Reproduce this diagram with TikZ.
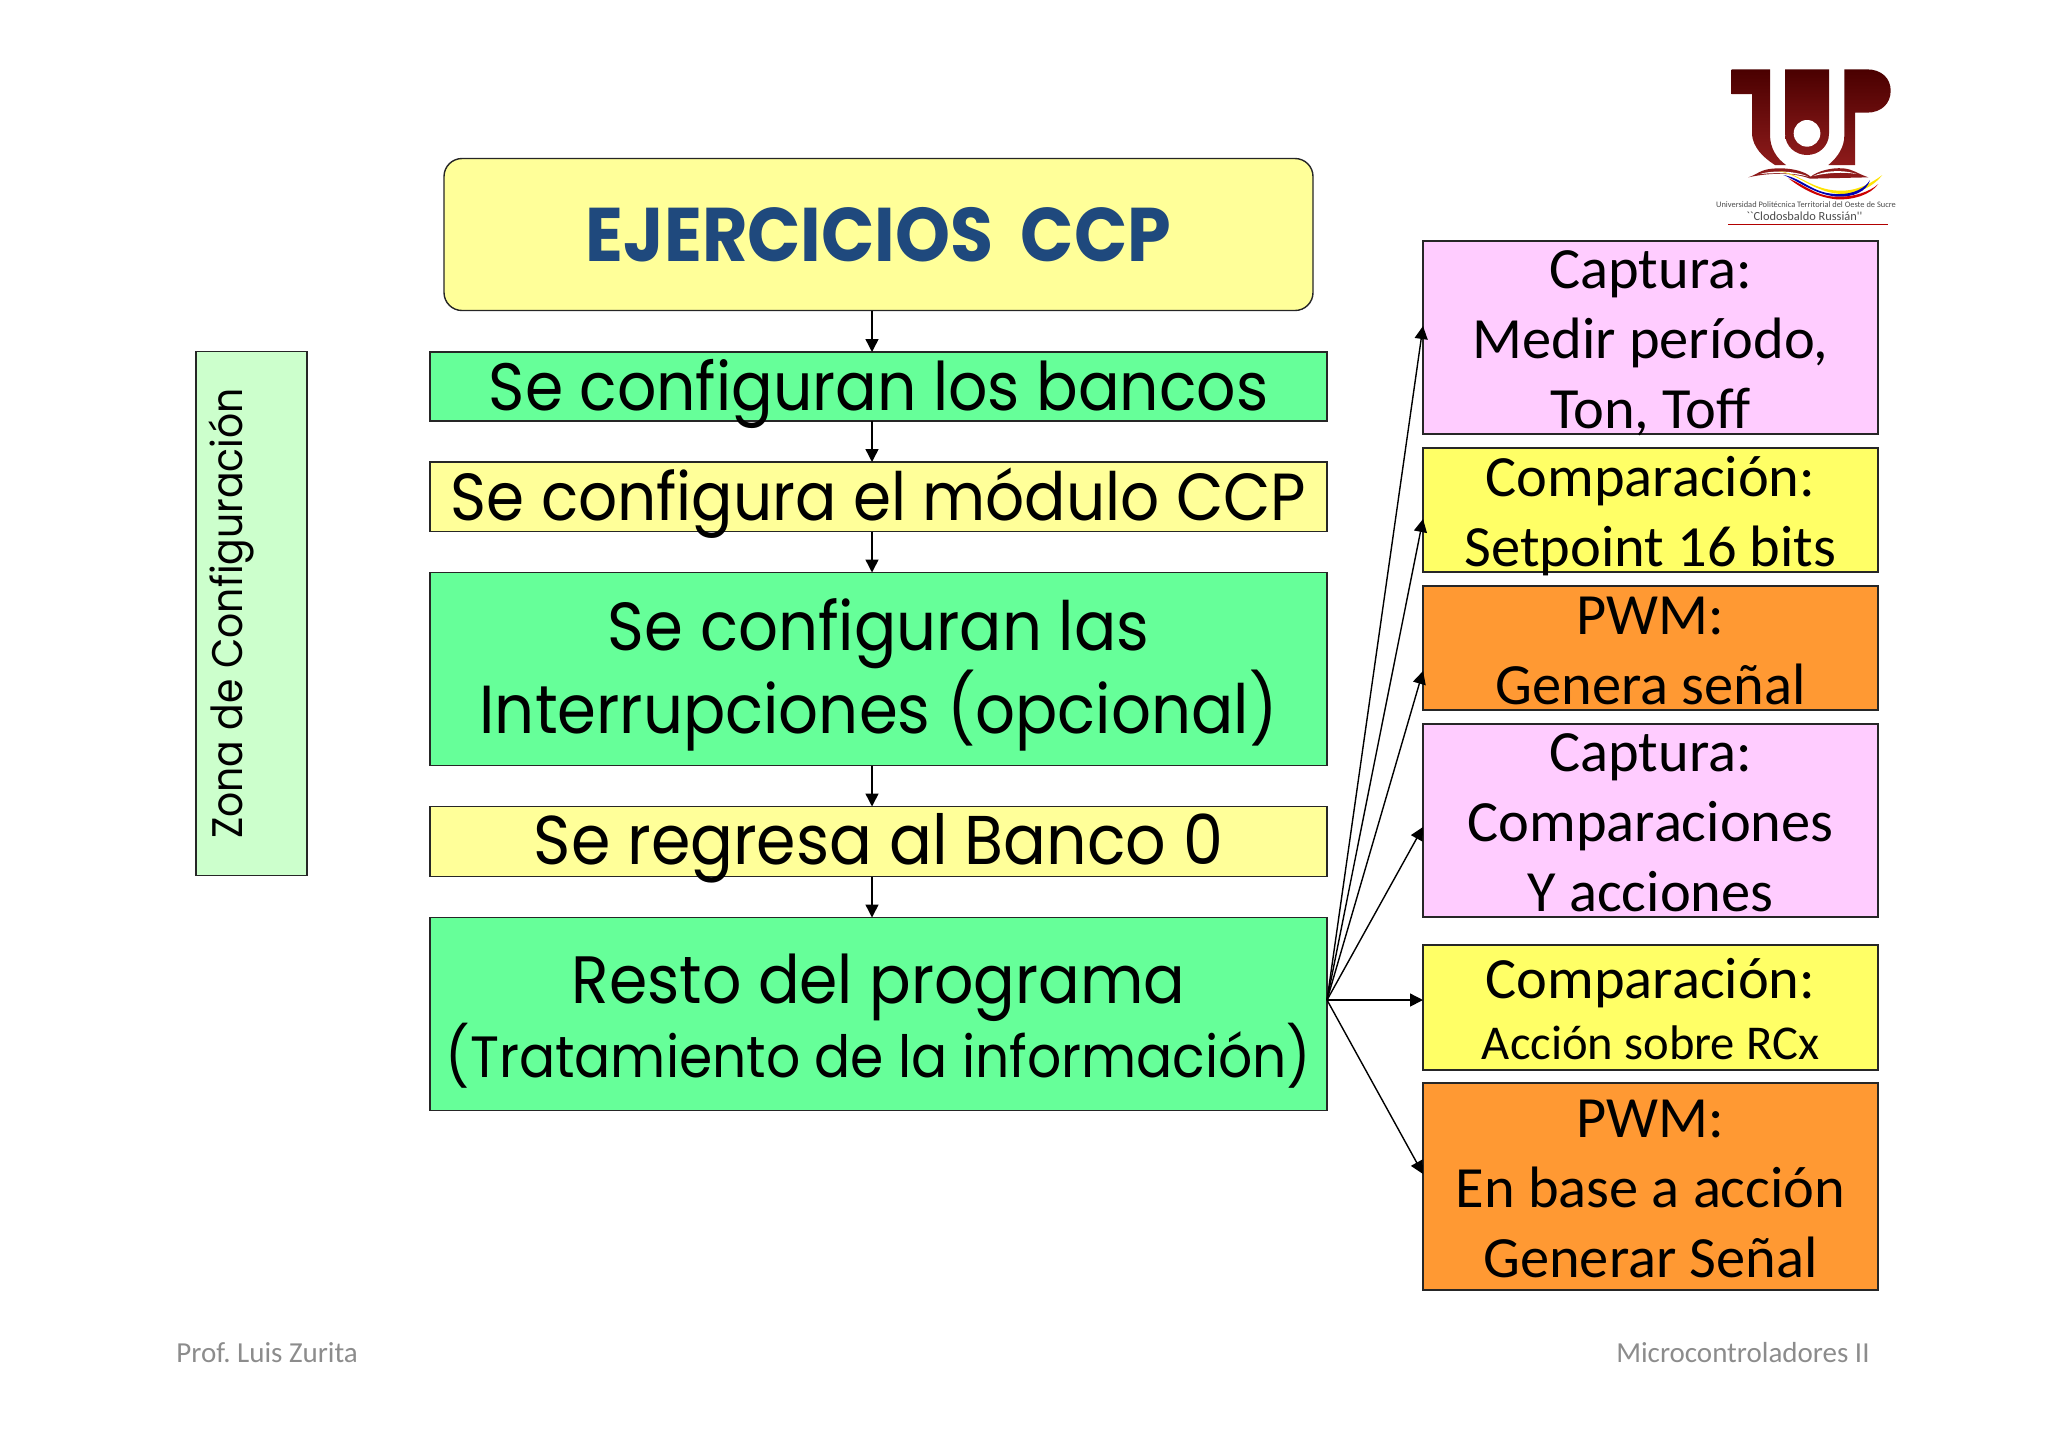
\documentclass[tikz,border=0pt]{standalone}
\usepackage{fontspec}
\setmainfont{Carlito}
\newfontfamily\comic[FakeStretch=0.92]{Poppins}
\newfontfamily\calib{Carlito}
\usetikzlibrary{positioning, arrows.meta}
\definecolor{flowgreen}{HTML}{66FF99}
\definecolor{flowyellow}{HTML}{FFFF99}
\definecolor{sidepink}{HTML}{FFCCFF}
\definecolor{sideyellow}{HTML}{FFFF66}
\definecolor{sideorange}{HTML}{FF9933}
\definecolor{zonegreen}{HTML}{CCFFCC}
\definecolor{titleblue}{HTML}{1F497D}
\definecolor{footgray}{HTML}{8C8C8C}
\definecolor{logodark}{HTML}{4A0000}
\definecolor{logolight}{HTML}{8E1B1B}
\tikzset{
  box/.style={draw=black!85, line width=.7pt, rectangle, inner sep=0pt, outer sep=0pt, align=center},
  hd/.style 2 args={text height=#1, text depth=#2},
  flowbox/.style={box, minimum width=448.5pt, font=\comic\fontsize{33.5}{31}\selectfont},
  sidebox/.style={box, minimum width=227.5pt, font=\calib\fontsize{29.2}{35}\selectfont},
  flecha/.style={line width=.7pt, -{Triangle[length=6.5pt,width=6.5pt]}},
  foot/.style={text=footgray, font=\calib\fontsize{14.5}{16}\selectfont\frenchspacing, inner sep=0pt},
  logotext/.style={text=black!70, inner sep=0pt}
}
\begin{document}
\begin{tikzpicture}[x=.5pt, y=-.5pt]
\useasboundingbox (0,0) rectangle (2048,1447);
\node (titulo) at (878.5,234.5) [box, fill=flowyellow, rounded corners=9pt, minimum width=434.5pt, hd={51.3pt}{24.7pt},
text=titleblue, font=\comic\bfseries\fontsize{38}{40}\selectfont] {EJERCICIOS\, CCP};
\node (bancos) [below=20.75pt of titulo, flowbox, fill=flowgreen, hd={29pt}{5.5pt}] {Se configuran los bancos};
\node (modulo) [below=20.5pt of bancos, flowbox, fill=flowyellow, font=\comic\fontsize{33.3}{31}\selectfont, hd={29.25pt}{5.5pt}] {Se configura el módulo CCP};
\node (interrup) [below=20.5pt of modulo, flowbox, fill=flowgreen, font=\comic\fontsize{34}{31}\selectfont, hd={80.5pt}{16pt}] {Se configuran las\\[-.5pt]Interrupciones (opcional)};
\node (banco0) [below=20.5pt of interrup, flowbox, fill=flowyellow, font=\comic\fontsize{34.5}{31}\selectfont, hd={29pt}{6pt}] {Se regresa al Banco 0};
\node (resto) [below=20.5pt of banco0, flowbox, fill=flowgreen, hd={80pt}{16.5pt}, font=\comic\fontsize{29.1}{36}\selectfont] {{\fontsize{33.5}{36}\selectfont Resto del programa}\\(Tratamiento de la información)};
\node (zona) at (251.5,613.5) [box, fill=zonegreen, minimum width=262pt, hd={23.3pt}{32.2pt}, rotate=90,
font=\comic\fontsize{21.4}{24}\selectfont] {Zona de Configuración};

\node (captura) at (1650.5,337.5) [sidebox, fill=sidepink, hd={93.5pt}{3pt}] {Captura:\\Medir período,\\Ton, Toff};
\node (compara) [below=7pt of captura, sidebox, fill=sideyellow, hd={59pt}{3pt}] {Comparación:\\Setpoint 16 bits};
\node (pwm) [below=7pt of compara, sidebox, fill=sideorange, hd={59pt}{3pt}] {PWM:\\Genera señal};
\node (capturb) [below=7pt of pwm, sidebox, fill=sidepink, hd={93.5pt}{3pt}] {Captura:\\Comparaciones\\Y acciones};
\node (comparb) [below=14pt of capturb, sidebox, fill=sideyellow, hd={57pt}{5.5pt}] {Comparación:\\[-4.5pt]{\fontsize{24.3}{30}\selectfont Acción sobre RCx}};
\node (pwmb) [below=6.5pt of comparb, sidebox, fill=sideorange, hd={97pt}{6.5pt}] {PWM:\\En base a acción\\Generar Señal};

\coordinate (eje) at (872,0);
\coordinate (abanico) at (1327,1000);
\draw[flecha] (titulo.south -| eje) -- (bancos.north -| eje);
\draw[flecha] (bancos.south -| eje) -- (modulo.north -| eje);
\draw[flecha] (modulo.south -| eje) -- (interrup.north -| eje);
\draw[flecha] (interrup.south -| eje) -- (banco0.north -| eje);
\draw[flecha] (banco0.south -| eje) -- (resto.north -| eje);
\draw[flecha] (abanico) -- ([yshift=5.75pt]captura.west);
\draw[flecha] (abanico) -- ([yshift=-4.5pt]compara.west);
\draw[flecha] (abanico) -- ([yshift=-11.5pt]pwm.west);
\draw[flecha] (abanico) -- ([yshift=-3.25pt]capturb.west);
\draw[flecha] (abanico) -- ([yshift=3.75pt]comparb.west);
\draw[flecha] (abanico) -- ([yshift=6.25pt]pwmb.west);

\node (profe) at (176,1362) [foot, anchor=base west] {Prof. Luis Zurita};
\node (materia) at (1870,1362) [foot, anchor=base east] {Microcontroladores II};

% logo
\begin{scope}[shift={(1680,40)}, x=.16667pt, y=-.16667pt]
\shade[top color=logodark, bottom color=logolight] (155,88) -- (270,88) -- (270,285)
  .. controls (270,325) and (290,355) .. (318,375) -- (285,375)
  .. controls (245,350) and (220,320) .. (216,285) -- (216,162) -- (155,162) -- cycle;
\shade[top color=logodark, bottom color=logolight] (315,88) -- (447,88) -- (447,280)
  .. controls (447,320) and (415,345) .. (381,345) .. controls (347,345) and (315,320) .. (315,280) -- cycle;
\fill[white] (381,280) circle (40);
\shade[top color=logodark, bottom color=logolight] (493,88) -- (560,88)
  .. controls (605,88) and (632,115) .. (632,152) .. controls (632,190) and (605,218) .. (560,218)
  -- (525,218) -- (525,375) -- (445,375) .. controls (475,350) and (493,320) .. (493,285) -- cycle;
\fill[logolight] (205,412) .. controls (240,400) and (240,385) .. (300,385) .. controls (340,385) and (375,395) .. (392,410)
  .. controls (410,395) and (450,382) .. (490,385) .. controls (520,388) and (530,400) .. (565,412) -- (390,416)
  .. controls (350,400) and (280,395) .. cycle;
\fill[white] (240,402) .. controls (270,392) and (340,390) .. (385,410) .. controls (340,398) and (280,398) .. cycle;
\fill[white] (400,408) .. controls (430,392) and (490,388) .. (530,402) .. controls (490,395) and (440,398) .. cycle;
\fill[yellow!85!orange] (295,393) .. controls (360,400) and (400,455) .. (490,452) .. controls (540,450) and (580,425) .. (607,405)
  .. controls (580,440) and (530,465) .. (480,462) .. controls (400,455) and (360,405) .. cycle;
\fill[blue!70!black] (310,405) .. controls (370,415) and (400,465) .. (480,462) .. controls (520,462) and (555,445) .. (570,420)
  .. controls (560,455) and (520,472) .. (470,470) .. controls (400,462) and (360,425) .. cycle;
\fill[red!80!black] (325,415) .. controls (375,435) and (410,470) .. (470,470) .. controls (520,472) and (570,455) .. (595,432)
  .. controls (570,465) and (520,480) .. (470,478) .. controls (410,472) and (365,445) .. cycle;
\node (upt) at (378,493) [logotext, font=\calib\fontsize{4.2}{5}\selectfont] {Universidad Politécnica Territorial del Oeste de Sucre};
\node (russian) at (373,530) [logotext, font=\calib\fontsize{6.2}{7}\selectfont] {``Clodosbaldo Russián''};
\draw[red!70!black, line width=.5pt] (145,552) -- (625,552);
\end{scope}
\end{tikzpicture}
\end{document}
